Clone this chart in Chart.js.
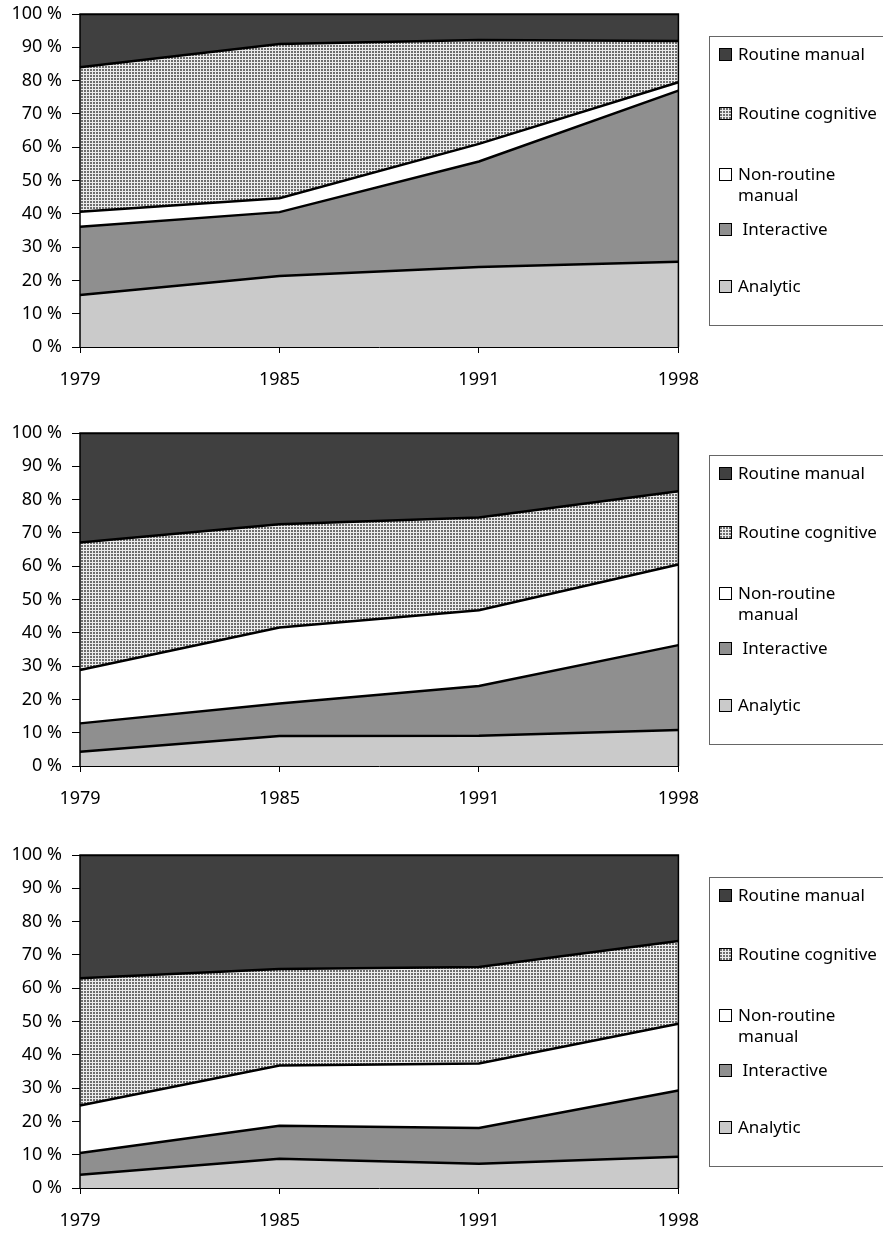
<!DOCTYPE html>
<html>
<head>
<meta charset="utf-8">
<script src="https://cdn.jsdelivr.net/npm/chart.js@4.4.1/dist/chart.umd.min.js"></script>
<style>
  html, body { margin: 0; padding: 0; background: #fff; overflow: hidden; }
  body { width: 883px; height: 1234px; position: relative; font-family: 'Noto Sans', sans-serif; }
  .panel { position: absolute; left: 0; width: 883px; height: 395px; }
  .panel canvas { position: absolute; left: 0; top: 0; }
  .legend { position: absolute; left: 709px; top: 36px; width: 200px; height: 290px;
            border: 1px solid #666; box-sizing: border-box; }
  .item { position: absolute; left: 9px; font-size: 17px; line-height: 20px; color: #000; white-space: nowrap; }
  .sw { display: inline-block; width: 11px; height: 11px; border: 1px solid #000;
        vertical-align: -1px; margin-right: 6px; }
</style>
</head>
<body>
<div class="panel" style="top:0px"><canvas id="c1" width="715" height="395"></canvas><div class="legend" id="l1"></div></div>
<div class="panel" style="top:419px"><canvas id="c2" width="715" height="395"></canvas><div class="legend" id="l2"></div></div>
<div class="panel" style="top:841px"><canvas id="c3" width="715" height="395"></canvas><div class="legend" id="l3"></div></div>
<script>
// years on the x axis
const years = ['1979', '1985', '1991', '1998'];
const yTicks = [0, 10, 20, 30, 40, 50, 60, 70, 80, 90, 100];
const seriesNames = ['Analytic', 'Interactive', 'Non-routine manual', 'Routine cognitive', 'Routine manual'];

// panel 1 (shares, %)
const p1Analytic = [15.6, 21.3, 24.0, 25.6];
const p1Interactive = [20.5, 19.2, 31.7, 51.4];
const p1NonRoutineManual = [4.5, 4.2, 5.3, 2.5];
const p1RoutineCognitive = [43.4, 46.3, 31.2, 12.4];
const p1RoutineManual = [16.0, 9.0, 7.8, 8.1];

// panel 2
const p2Analytic = [4.3, 9.0, 9.1, 10.8];
const p2Interactive = [8.5, 9.8, 14.9, 25.5];
const p2NonRoutineManual = [16.0, 22.8, 22.8, 24.2];
const p2RoutineCognitive = [38.3, 31.0, 27.8, 22.0];
const p2RoutineManual = [32.9, 27.4, 25.4, 17.5];

// panel 3
const p3Analytic = [4.0, 8.8, 7.3, 9.4];
const p3Interactive = [6.5, 9.9, 10.7, 19.9];
const p3NonRoutineManual = [14.3, 18.1, 19.4, 20.0];
const p3RoutineCognitive = [38.2, 29.0, 29.0, 24.9];
const p3RoutineManual = [37.0, 34.2, 33.6, 25.8];

// dotted fill for "Routine cognitive"
const tile = document.createElement('canvas');
tile.width = 3; tile.height = 3;
const tctx = tile.getContext('2d');
tctx.fillStyle = '#ececec';
tctx.fillRect(0, 0, 3, 3);
tctx.fillStyle = '#6e6e6e';
tctx.fillRect(0, 0, 2, 2);
const dots = tctx.createPattern(tile, 'repeat');

const fills = ['#cacaca', '#8f8f8f', '#ffffff', dots, '#404040'];

Chart.defaults.font.family = "'Noto Sans', sans-serif";
Chart.defaults.font.size = 18;
Chart.defaults.color = '#000';

const frame = {
  id: 'frame',
  afterDatasetsDraw(chart) {
    const a = chart.chartArea;
    const ctx = chart.ctx;
    ctx.save();
    ctx.strokeStyle = '#000';
    ctx.lineWidth = 1.5;
    ctx.beginPath();
    ctx.moveTo(a.left, a.bottom);
    ctx.lineTo(a.left, a.top);
    ctx.lineTo(a.right, a.top);
    ctx.lineTo(a.right, a.bottom);
    ctx.stroke();
    ctx.restore();
  }
};

function makeChart(id, series) {
  const datasets = series.map((vals, i) => ({
    label: seriesNames[i],
    data: vals,
    backgroundColor: fills[i],
    borderColor: '#000',
    borderWidth: 2.5,
    pointRadius: 0,
    tension: 0,
    fill: i === 0 ? 'origin' : '-1'
  }));
  new Chart(document.getElementById(id), {
    type: 'line',
    data: { labels: years, datasets: datasets },
    options: {
      responsive: false,
      animation: false,
      layout: { padding: { top: 14, right: 25, left: 0, bottom: 0 } },
      plugins: { legend: { display: false }, tooltip: { enabled: false } },
      scales: {
        x: {
          offset: false,
          grid: { drawOnChartArea: false, tickLength: 6, color: '#000' },
          border: { color: '#000', width: 1 },
          ticks: { maxRotation: 0, autoSkip: false, padding: 16 },
          afterFit(scale) { scale.height = 48; }
        },
        y: {
          stacked: true,
          min: 0, max: 100,
          afterBuildTicks(scale) { scale.ticks = yTicks.map(v => ({ value: v })); },
          grid: { drawOnChartArea: false, tickLength: 8, color: '#000' },
          border: { color: '#000', width: 1 },
          ticks: { padding: 10, callback: v => v + ' %' },
          afterFit(scale) { scale.width = 80; scale.paddingTop = 0; scale.paddingBottom = 0; }
        }
      }
    },
    plugins: [frame]
  });
}

makeChart('c1', [p1Analytic, p1Interactive, p1NonRoutineManual, p1RoutineCognitive, p1RoutineManual]);
makeChart('c2', [p2Analytic, p2Interactive, p2NonRoutineManual, p2RoutineCognitive, p2RoutineManual]);
makeChart('c3', [p3Analytic, p3Interactive, p3NonRoutineManual, p3RoutineCognitive, p3RoutineManual]);

// legend, top entry first
const legendRows = [
  { text: 'Routine manual', fill: '#404040', top: 7 },
  { text: 'Routine cognitive', fill: 'pattern', top: 66 },
  { text: 'Non-routine<br><span style="padding-left:19px">manual</span>', fill: '#ffffff', top: 126, tall: true },
  { text: '&nbsp;Interactive', fill: '#8f8f8f', top: 182 },
  { text: 'Analytic', fill: '#cacaca', top: 239 }
];
const tileUrl = tile.toDataURL();
['l1', 'l2', 'l3'].forEach(id => {
  const box = document.getElementById(id);
  legendRows.forEach(r => {
    const d = document.createElement('div');
    d.className = 'item';
    d.style.top = r.top + 'px';
    if (r.tall) d.style.lineHeight = '21px';
    const bg = r.fill === 'pattern' ? `background-image:url(${tileUrl})` : `background:${r.fill}`;
    d.innerHTML = `<span class="sw" style="${bg}"></span>${r.text}`;
    box.appendChild(d);
  });
});
</script>
</body>
</html>
